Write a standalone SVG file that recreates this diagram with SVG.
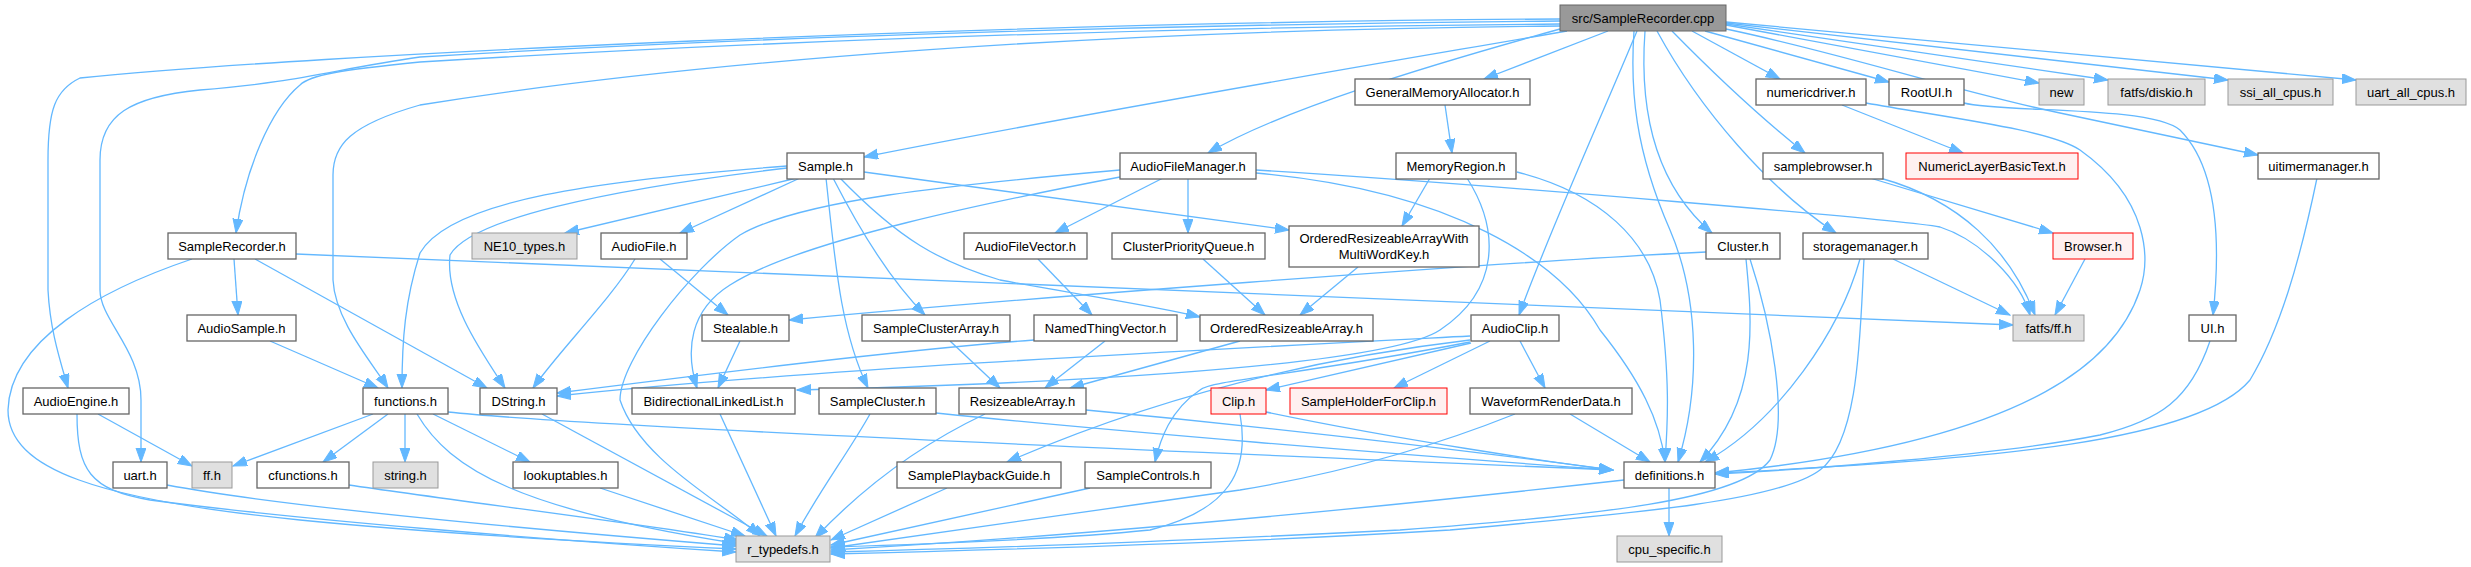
<svg xmlns="http://www.w3.org/2000/svg" width="2471" height="567" viewBox="0 0 2471 567">
<style>
.n rect{fill:#fff;stroke:#666;stroke-width:1.3}
.g rect{fill:#e0e0e0;stroke:#999}
.r rect{fill:#fff0f0;stroke:#f00}
.root rect{fill:#999;stroke:#666}
text{font-family:"Liberation Sans",Arial,Helvetica,sans-serif;font-size:13px;fill:#000;text-anchor:middle}
#edges path{fill:none;stroke:#63b8ff;stroke-width:1.3;marker-end:url(#a)}
</style>
<defs>
<marker id="a" markerUnits="userSpaceOnUse" markerWidth="15" markerHeight="11" refX="14" refY="5" orient="auto">
<path d="M0,0 L14,5 L0,10 z" fill="#63b8ff" stroke="#63b8ff"/>
</marker>
</defs>
<rect width="2471" height="567" fill="#fff"/>
<g id="edges">
<path d="M1560,19 C1000,22 300,55 80,78 C55,90 48,110 48,160 L48,290 C50,330 60,360 68,388"/>
<path d="M1560,21 C1100,25 700,40 420,57 C330,70 300,82 200,90 C130,97 100,115 100,160 L100,290 C100,320 141,350 141,400 L141,462"/>
<path d="M1560,24 C1100,28 700,45 420,62 C340,70 310,75 300,85 C270,110 245,170 236,233"/>
<path d="M1560,26 C1100,30 700,60 420,105 C350,125 333,145 333,175 L333,280 C335,320 370,360 388,388"/>
<path d="M1567,31 C1400,60 1100,110 864,157"/>
<path d="M1560,29 C1430,65 1280,110 1208,153"/>
<path d="M1608,31 L1484,79"/>
<path d="M1637,31 C1600,120 1550,230 1519,315"/>
<path d="M1634,31 C1630,90 1635,150 1670,230 C1700,300 1700,390 1678,462"/>
<path d="M1645,31 C1640,100 1650,180 1712,233"/>
<path d="M1657,31 C1700,110 1770,190 1836,233"/>
<path d="M1672,31 C1720,80 1770,125 1805,153"/>
<path d="M1692,31 L1780,79"/>
<path d="M1705,31 L1889,82"/>
<path d="M1726,25 L2039,83"/>
<path d="M1726,24 L2108,80"/>
<path d="M1726,23 L2228,80"/>
<path d="M1726,22 L2356,80"/>
<path d="M1726,29 C1850,55 1950,90 2060,113 L2258,155"/>
<path d="M1445,105 L1452,153"/>
<path d="M1430,178 L1402,226"/>
<path d="M1517,172 C1600,193 1650,240 1660,300 C1670,380 1668,420 1665,462"/>
<path d="M1467,178 C1500,230 1500,290 1440,330 C1380,370 1000,385 797,390"/>
<path d="M1842,105 L1963,153"/>
<path d="M1866,103 C1950,118 2050,130 2080,150 C2150,200 2150,260 2140,290 C2120,350 2050,440 1715,473"/>
<path d="M1964,103 C2000,113 2150,105 2180,130 C2220,170 2220,250 2213,315"/>
<path d="M2317,178 C2300,260 2280,330 2250,380 C2200,440 2000,460 1715,473"/>
<path d="M2210,341 C2190,400 2160,420 2100,435 C2000,455 1800,470 1715,474"/>
<path d="M797,178 L565,233"/>
<path d="M800,178 L680,233"/>
<path d="M787,166 C600,180 450,200 420,253 C405,300 402,340 402,388"/>
<path d="M787,168 C600,190 470,220 450,255 C445,300 480,350 505,388"/>
<path d="M826,178 C835,260 840,330 868,388"/>
<path d="M833,178 C870,250 900,290 925,315"/>
<path d="M840,178 C900,240 940,262 1000,280 C1080,295 1150,305 1200,317"/>
<path d="M864,172 L1289,230"/>
<path d="M1163,178 L1055,233"/>
<path d="M1188,178 L1188,233"/>
<path d="M1120,177 C1000,200 800,240 730,285 C690,310 685,350 697,388"/>
<path d="M1120,170 C950,185 800,200 740,235 C690,270 620,360 620,400 C640,460 720,500 760,536"/>
<path d="M1256,170 C1500,185 1900,220 1940,227 C1980,240 2020,280 2030,315"/>
<path d="M1256,173 C1450,190 1560,260 1600,330 C1640,380 1660,420 1665,462"/>
<path d="M1870,178 L2053,233"/>
<path d="M1880,178 C1960,200 2010,250 2035,315"/>
<path d="M2085,259 L2055,315"/>
<path d="M234,259 L238,315"/>
<path d="M255,259 L487,388"/>
<path d="M192,259 C100,290 10,340 8,410 C8,470 100,500 300,520 C450,535 650,545 736,549"/>
<path d="M296,254 L2013,325"/>
<path d="M635,259 C610,300 560,350 533,388"/>
<path d="M660,259 L728,315"/>
<path d="M1038,259 L1092,315"/>
<path d="M1203,259 L1265,315"/>
<path d="M1358,267 L1300,315"/>
<path d="M1750,259 C1770,320 1790,420 1770,460 C1740,500 1600,515 1400,530 C1200,540 1000,548 831,552"/>
<path d="M1746,259 C1752,320 1760,400 1700,462"/>
<path d="M1706,252 C1500,262 1000,300 789,320"/>
<path d="M1864,259 C1860,330 1860,440 1820,470 C1780,500 1650,512 1450,530 C1250,542 1000,550 831,554"/>
<path d="M1860,259 C1840,330 1780,420 1705,462"/>
<path d="M1893,259 L2010,315"/>
<path d="M270,341 L378,388"/>
<path d="M740,341 L718,388"/>
<path d="M950,341 L1000,388"/>
<path d="M1105,341 L1045,388"/>
<path d="M1034,340 C900,350 700,375 557,393"/>
<path d="M1240,341 L1070,388"/>
<path d="M1470,336 C1200,350 800,370 557,396"/>
<path d="M1470,340 C1300,360 1150,400 1007,462"/>
<path d="M1470,342 C1300,375 1210,380 1200,390 C1170,410 1160,440 1155,462"/>
<path d="M1471,343 L1266,390"/>
<path d="M1490,341 L1394,388"/>
<path d="M1520,341 L1545,388"/>
<path d="M98,414 L192,466"/>
<path d="M77,414 C77,470 90,490 150,500 C300,520 550,540 736,552"/>
<path d="M373,414 L233,466"/>
<path d="M388,414 L323,462"/>
<path d="M405,414 L405,462"/>
<path d="M433,414 L530,462"/>
<path d="M448,412 C550,423 900,440 1613,470"/>
<path d="M417,414 C450,470 520,510 740,544"/>
<path d="M542,414 L767,536"/>
<path d="M720,414 L776,536"/>
<path d="M870,414 C850,450 820,490 795,536"/>
<path d="M985,414 C930,440 870,480 815,538"/>
<path d="M936,413 C1100,430 1400,455 1613,470"/>
<path d="M1086,410 C1300,430 1500,455 1613,470"/>
<path d="M1240,414 C1250,470 1230,510 1150,530 C1050,540 900,545 831,547"/>
<path d="M1266,412 C1400,440 1550,462 1613,470"/>
<path d="M1515,414 C1400,460 1300,480 1240,490 C1100,510 950,530 831,548"/>
<path d="M1570,414 L1650,462"/>
<path d="M167,485 C300,510 600,535 736,546"/>
<path d="M349,485 C450,500 650,525 738,540"/>
<path d="M600,488 L745,536"/>
<path d="M947,488 L831,540"/>
<path d="M1090,488 L831,545"/>
<path d="M1624,480 C1400,505 1100,535 831,550"/>
<path d="M1669,488 L1669,536"/>
</g>
<g id="n0" class="root"><rect x="1560" y="5" width="166" height="26"/><text x="1643" y="22.5">src/SampleRecorder.cpp</text></g>
<g id="n1" class="n"><rect x="1355" y="79" width="175" height="26"/><text x="1442.5" y="96.5">GeneralMemoryAllocator.h</text></g>
<g id="n2" class="n"><rect x="1756" y="79" width="110" height="26"/><text x="1811" y="96.5">numericdriver.h</text></g>
<g id="n3" class="n"><rect x="1889" y="79" width="75" height="26"/><text x="1926.5" y="96.5">RootUI.h</text></g>
<g id="n4" class="g"><rect x="2039" y="79" width="45" height="26"/><text x="2061.5" y="96.5">new</text></g>
<g id="n5" class="g"><rect x="2108" y="79" width="97" height="26"/><text x="2156.5" y="96.5">fatfs/diskio.h</text></g>
<g id="n6" class="g"><rect x="2228" y="79" width="105" height="26"/><text x="2280.5" y="96.5">ssi_all_cpus.h</text></g>
<g id="n7" class="g"><rect x="2356" y="79" width="110" height="26"/><text x="2411" y="96.5">uart_all_cpus.h</text></g>
<g id="n8" class="n"><rect x="787" y="153" width="77" height="26"/><text x="825.5" y="170.5">Sample.h</text></g>
<g id="n9" class="n"><rect x="1120" y="153" width="136" height="26"/><text x="1188" y="170.5">AudioFileManager.h</text></g>
<g id="n10" class="n"><rect x="1396" y="153" width="120" height="26"/><text x="1456" y="170.5">MemoryRegion.h</text></g>
<g id="n11" class="n"><rect x="1763" y="153" width="120" height="26"/><text x="1823" y="170.5">samplebrowser.h</text></g>
<g id="n12" class="r"><rect x="1906" y="153" width="172" height="26"/><text x="1992" y="170.5">NumericLayerBasicText.h</text></g>
<g id="n13" class="n"><rect x="2258" y="153" width="121" height="26"/><text x="2318.5" y="170.5">uitimermanager.h</text></g>
<g id="n14" class="n"><rect x="168" y="233" width="128" height="26"/><text x="232" y="250.5">SampleRecorder.h</text></g>
<g id="n15" class="g"><rect x="472" y="233" width="105" height="26"/><text x="524.5" y="250.5">NE10_types.h</text></g>
<g id="n16" class="n"><rect x="601" y="233" width="86" height="26"/><text x="644" y="250.5">AudioFile.h</text></g>
<g id="n17" class="n"><rect x="964" y="233" width="123" height="26"/><text x="1025.5" y="250.5">AudioFileVector.h</text></g>
<g id="n18" class="n"><rect x="1112" y="233" width="153" height="26"/><text x="1188.5" y="250.5">ClusterPriorityQueue.h</text></g>
<g id="n19" class="n"><rect x="1289" y="226" width="190" height="41"/><text x="1384" y="243">OrderedResizeableArrayWith</text><text x="1384" y="259">MultiWordKey.h</text></g>
<g id="n20" class="n"><rect x="1706" y="233" width="74" height="26"/><text x="1743" y="250.5">Cluster.h</text></g>
<g id="n21" class="n"><rect x="1803" y="233" width="125" height="26"/><text x="1865.5" y="250.5">storagemanager.h</text></g>
<g id="n22" class="r"><rect x="2053" y="233" width="80" height="26"/><text x="2093" y="250.5">Browser.h</text></g>
<g id="n23" class="n"><rect x="187" y="315" width="109" height="26"/><text x="241.5" y="332.5">AudioSample.h</text></g>
<g id="n24" class="n"><rect x="702" y="315" width="87" height="26"/><text x="745.5" y="332.5">Stealable.h</text></g>
<g id="n25" class="n"><rect x="862" y="315" width="148" height="26"/><text x="936" y="332.5">SampleClusterArray.h</text></g>
<g id="n26" class="n"><rect x="1034" y="315" width="143" height="26"/><text x="1105.5" y="332.5">NamedThingVector.h</text></g>
<g id="n27" class="n"><rect x="1200" y="315" width="173" height="26"/><text x="1286.5" y="332.5">OrderedResizeableArray.h</text></g>
<g id="n28" class="n"><rect x="1471" y="315" width="88" height="26"/><text x="1515" y="332.5">AudioClip.h</text></g>
<g id="n29" class="g"><rect x="2013" y="315" width="71" height="26"/><text x="2048.5" y="332.5">fatfs/ff.h</text></g>
<g id="n30" class="n"><rect x="2189" y="315" width="47" height="26"/><text x="2212.5" y="332.5">UI.h</text></g>
<g id="n31" class="n"><rect x="23" y="388" width="106" height="26"/><text x="76" y="405.5">AudioEngine.h</text></g>
<g id="n32" class="n"><rect x="363" y="388" width="85" height="26"/><text x="405.5" y="405.5">functions.h</text></g>
<g id="n33" class="n"><rect x="480" y="388" width="77" height="26"/><text x="518.5" y="405.5">DString.h</text></g>
<g id="n34" class="n"><rect x="632" y="388" width="163" height="26"/><text x="713.5" y="405.5">BidirectionalLinkedList.h</text></g>
<g id="n35" class="n"><rect x="819" y="388" width="117" height="26"/><text x="877.5" y="405.5">SampleCluster.h</text></g>
<g id="n36" class="n"><rect x="959" y="388" width="127" height="26"/><text x="1022.5" y="405.5">ResizeableArray.h</text></g>
<g id="n37" class="r"><rect x="1211" y="388" width="55" height="26"/><text x="1238.5" y="405.5">Clip.h</text></g>
<g id="n38" class="r"><rect x="1290" y="388" width="157" height="26"/><text x="1368.5" y="405.5">SampleHolderForClip.h</text></g>
<g id="n39" class="n"><rect x="1470" y="388" width="162" height="26"/><text x="1551" y="405.5">WaveformRenderData.h</text></g>
<g id="n40" class="n"><rect x="113" y="462" width="54" height="26"/><text x="140" y="479.5">uart.h</text></g>
<g id="n41" class="g"><rect x="192" y="462" width="40" height="26"/><text x="212" y="479.5">ff.h</text></g>
<g id="n42" class="n"><rect x="257" y="462" width="92" height="26"/><text x="303" y="479.5">cfunctions.h</text></g>
<g id="n43" class="g"><rect x="373" y="462" width="65" height="26"/><text x="405.5" y="479.5">string.h</text></g>
<g id="n44" class="n"><rect x="513" y="462" width="105" height="26"/><text x="565.5" y="479.5">lookuptables.h</text></g>
<g id="n45" class="n"><rect x="897" y="462" width="164" height="26"/><text x="979" y="479.5">SamplePlaybackGuide.h</text></g>
<g id="n46" class="n"><rect x="1085" y="462" width="126" height="26"/><text x="1148" y="479.5">SampleControls.h</text></g>
<g id="n47" class="n"><rect x="1624" y="462" width="91" height="26"/><text x="1669.5" y="479.5">definitions.h</text></g>
<g id="n48" class="g"><rect x="736" y="536" width="94" height="26"/><text x="783" y="553.5">r_typedefs.h</text></g>
<g id="n49" class="g"><rect x="1617" y="536" width="105" height="26"/><text x="1669.5" y="553.5">cpu_specific.h</text></g>
</svg>
